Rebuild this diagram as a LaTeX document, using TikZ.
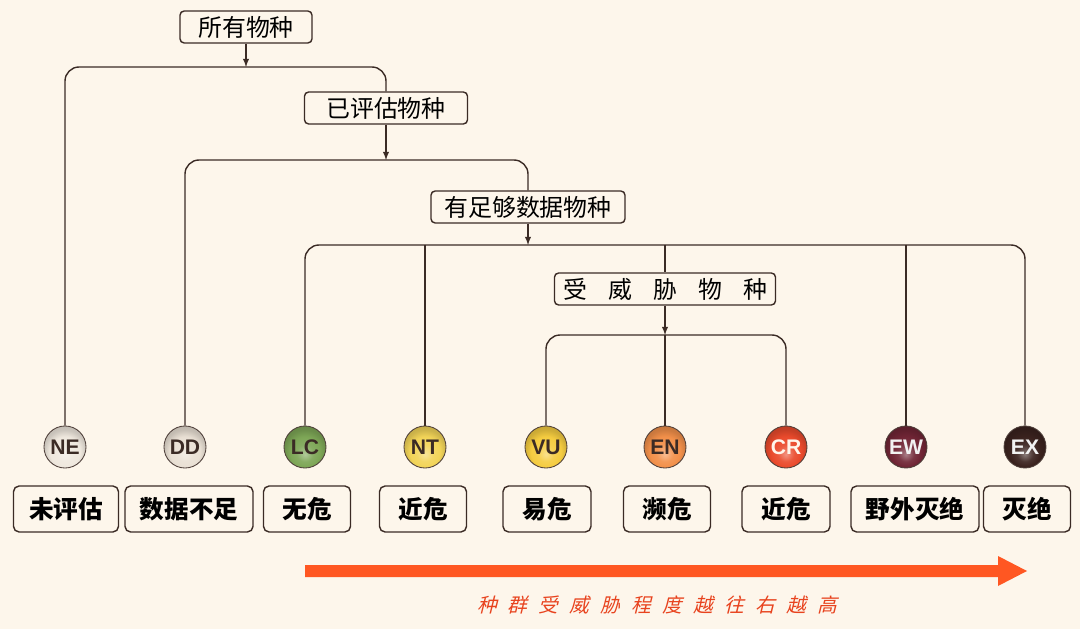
\documentclass[tikz,border=0pt]{standalone}
\usepackage{fontspec}
\newfontfamily\cjk{Noto Sans CJK SC}
\newfontfamily\cjkslant{Noto Sans CJK SC}[FakeSlant=0.25]
\newfontfamily\lat{Liberation Sans}
\definecolor{bgc}{HTML}{FDF6EB}
\definecolor{linec}{HTML}{3B2B25}
\definecolor{arrowc}{HTML}{FF5722}
\definecolor{textred}{HTML}{E8431E}
\definecolor{nec}{HTML}{EFE8DE}
\definecolor{ddc}{HTML}{E9E0D4}
\definecolor{lcc}{HTML}{7DA656}
\definecolor{ntc}{HTML}{F2D458}
\definecolor{vuc}{HTML}{F5CC40}
\definecolor{enc}{HTML}{F2904A}
\definecolor{crc}{HTML}{EA4A2C}
\definecolor{ewc}{HTML}{702535}
\definecolor{exc}{HTML}{3A221E}
\colorlet{base}{gray}
\pgfdeclareradialshading[base]{softball}{\pgfqpoint{0bp}{-9bp}}{%
  color(0bp)=(base!60!white); color(10bp)=(base!92!white); color(18bp)=(base);
  color(25bp)=(base!85!black); color(50bp)=(base!60!black)}
\newcommand\gap{\hspace{15pt}}
\newcommand\sgap{\hspace{8pt}}
\tikzset{
  line/.style={draw=linec, line width=1pt, rounded corners=10pt},
  arrow/.style={draw=linec, line width=1pt, -latex},
  catbox/.style={draw=linec, line width=1pt, rounded corners=3pt, fill=bgc,
    minimum height=0.8cm, inner sep=1pt, font=\cjk\fontsize{17}{17}\selectfont},
  labbox/.style={draw=linec, line width=1pt, rounded corners=4pt, fill=bgc,
    minimum height=1.15cm, inner sep=1pt, font=\cjk\bfseries\fontsize{17.5}{17.5}\selectfont},
  ball/.style={circle, draw=linec!90!white, line width=0.6pt, minimum size=1.05cm, inner sep=0pt,
    base color=#1, shading=softball, font=\lat\bfseries\fontsize{15}{15}\selectfont},
  base color/.code={\colorlet{base}{#1}}
}
\begin{document}
\begin{tikzpicture}[x=0.025cm, y=-0.025cm]
  % \helpgrid
  \useasboundingbox (0,0) rectangle (1080,629);
  \fill[bgc] (0,0) rectangle (1080,629);

  % categories
  \node[catbox, minimum width=3.3cm] (all) at (246,27) {所有物种};
  \node[catbox, minimum width=4.075cm] (eval) at (386,108) {已评估物种};
  \node[catbox, minimum width=4.85cm] (enough) at (528,207) {有足够数据物种};
  \node[catbox, minimum width=5.525cm] (threat) at (665,289) {受\gap 威\gap 胁\gap 物\gap 种};

  % status balls
  \node[ball=nec, text=linec] (ne) at (65,447) {NE};
  \node[ball=ddc, text=linec] (dd) at (185,447) {DD};
  \node[ball=lcc, text=linec] (lc) at (305,447) {LC};
  \node[ball=ntc, text=linec] (nt) at (425,447) {NT};
  \node[ball=vuc, text=linec] (vu) at (546,447) {VU};
  \node[ball=enc, text=linec] (en) at (665,447) {EN};
  \node[ball=crc, text=white!92!orange] (cr) at (786,447) {CR};
  \node[ball=ewc, text=white!90!gray] (ew) at (906,447) {EW};
  \node[ball=exc, text=white!90!gray] (ex) at (1025,447) {EX};

  % names
  \node[labbox, minimum width=2.625cm] (ne-l) at (66,509) {未评估};
  \node[labbox, minimum width=3.2cm] (dd-l) at (189,509) {数据不足};
  \node[labbox, minimum width=2.175cm] (lc-l) at (307,509) {无危};
  \node[labbox, minimum width=2.175cm] (nt-l) at (423,509) {近危};
  \node[labbox, minimum width=2.2cm] (vu-l) at (547,509) {易危};
  \node[labbox, minimum width=2.175cm] (en-l) at (667,509) {濒危};
  \node[labbox, minimum width=2.2cm] (cr-l) at (786,509) {近危};
  \node[labbox, minimum width=3.2cm] (ew-l) at (915,509) {野外灭绝};
  \node[labbox, minimum width=2.175cm] (ex-l) at (1027,509) {灭绝};

  % branches
  \coordinate (j1) at (386,67);
  \coordinate (a1) at (246,67);
  \draw[line] (ne) |- (j1) -- (eval);
  \draw[arrow] (all) -- (a1);

  \coordinate (j2) at (528,160);
  \coordinate (a2) at (386,160);
  \draw[line] (dd) |- (j2) -- (enough);
  \draw[arrow] (eval) -- (a2);

  \coordinate (j3) at (665,245);
  \coordinate (a3) at (528,245);
  \coordinate (k3nt) at (425,245);
  \coordinate (k3ew) at (906,245);
  \draw[line] (lc) |- (j3) -| (ex);
  \draw[line] (k3nt) -- (nt);
  \draw[line] (k3ew) -- (ew);
  \draw[line] (j3) -- (threat);
  \draw[arrow] (enough) -- (a3);

  \coordinate (j4) at (665,335);
  \draw[line] (vu) |- (j4) -| (cr);
  \draw[line] (j4) -- (en);
  \draw[arrow] (threat) -- (j4);

  % threat scale
  \fill[arrowc] (305,565) -- (998,565) -- (998,556) -- (1027,571) -- (998,586)
    -- (998,577) -- (305,577) -- cycle;
  \node[text=textred, font=\cjkslant\fontsize{14}{14}\selectfont] (scale) at (657,605)
    {种\sgap 群\sgap 受\sgap 威\sgap 胁\sgap 程\sgap 度\sgap 越\sgap 往\sgap 右\sgap 越\sgap 高};
\end{tikzpicture}
\end{document}
